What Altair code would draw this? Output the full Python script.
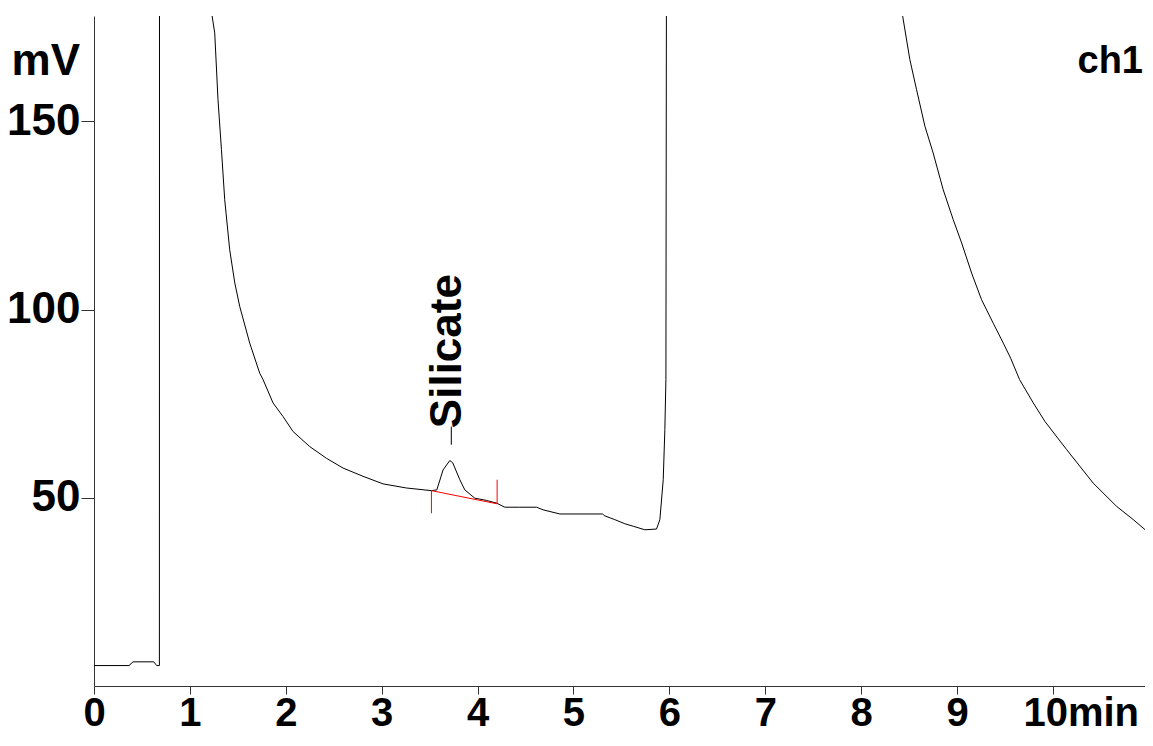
import altair as alt
import pandas as pd

# ---- data ----
trace_time = [0.0, 0.365, 0.407, 0.623, 0.654, 0.682, 0.683,
              1.217, 1.231, 1.259, 1.293, 1.329, 1.363, 1.415, 1.468, 1.520, 1.624, 1.728,
              1.763, 1.867, 1.971, 2.076, 2.250, 2.424, 2.597, 2.806, 3.014, 3.259, 3.519,
              3.575, 3.640, 3.710, 3.741, 3.815, 3.867, 3.971, 4.093, 4.197, 4.284, 4.440, 4.615, 4.683, 4.858,
              5.303, 5.327, 5.431, 5.536, 5.629, 5.744, 5.866, 5.901, 5.936, 5.953, 5.964, 5.969, 5.970,
              8.420, 8.432, 8.508, 8.578, 8.665, 8.751, 8.856, 8.960, 9.048, 9.152, 9.256, 9.377, 9.482, 9.559,
              9.652, 9.795, 9.916, 10.143, 10.420, 10.665, 10.838, 10.994]
trace_mv = [5.43, 5.43, 6.42, 6.42, 5.43, 5.43, 200,
            200, 178.1, 173.5, 155.8, 142.5, 129.2, 115.9, 107.1, 100.8, 91.1, 83.1,
            81.4, 75.2, 71.6, 67.6, 63.6, 60.5, 57.9, 55.7, 53.7, 52.6, 51.9,
            52.1, 57.4, 59.9, 59.3, 54.8, 52.1, 49.9, 49.3, 48.6, 47.5, 47.5, 47.5, 46.8, 45.7,
            45.7, 45.2, 44.2, 43.1, 42.4, 41.5, 41.7, 44.2, 54.8, 68.1, 81.4, 178.1, 200,
            200, 178.1, 166.4, 158.4, 148.7, 141.6, 131.8, 123.9, 117.7, 109.7, 102.6, 96.4, 91.1, 87.1,
            81.4, 75.2, 70.3, 62.8, 53.9, 47.7, 44.2, 40.8]

baseline_time = [3.519, 4.204]
baseline_mv = [51.9, 48.4]

marker_time = [3.519, 4.204]
marker_lo = [45.9, 48.4]
marker_hi = [51.9, 54.8]

peak_names = ["Silicate"]
peak_label_time = [3.695]
peak_label_mv = [68.5]
peak_tick_time = [3.726]
peak_tick_lo = [64.1]
peak_tick_hi = [68.9]

unit_text = ["mV"]
unit_time = [0.0]
unit_mv = [165.7]

channel_text = ["ch1"]
channel_time = [10.96]
channel_mv = [165.7]

x_ticks = list(range(0, 11))
y_ticks = [50, 100, 150]

FONT = "Liberation Sans"
AX = "#333333"

# ---- tables ----
trace = pd.DataFrame({"t": trace_time, "mv": trace_mv})
base = pd.DataFrame({"t": baseline_time, "mv": baseline_mv})
markers = pd.DataFrame({"t": marker_time, "mv": marker_lo, "mv2": marker_hi})
ptick = pd.DataFrame({"t": peak_tick_time, "mv": peak_tick_lo, "mv2": peak_tick_hi})
plabel = pd.DataFrame({"t": peak_label_time, "mv": peak_label_mv, "txt": peak_names})
unit = pd.DataFrame({"t": unit_time, "mv": unit_mv, "txt": unit_text})
chan = pd.DataFrame({"t": channel_time, "mv": channel_mv, "txt": channel_text})

xscale = alt.Scale(domain=[0, 10.96], nice=False, zero=False)
yscale = alt.Scale(domain=[0, 178], nice=False, zero=False)

xaxis = alt.Axis(
    values=x_ticks, title=None, grid=False,
    tickSize=8, tickColor=AX, tickWidth=1, domainColor=AX, domainWidth=1,
    labelFont=FONT, labelFontSize=40, labelFontWeight="bold", labelColor="black",
    labelPadding=-1, labelBaseline="top", labelFlush=False, labelOverlap=False,
    labelBound=False,
    labelExpr="datum.value == 10 ? '10min' : datum.label",
    labelAlign={"condition": {"test": "datum.value == 10", "value": "left"}, "value": "center"},
    labelOffset={"condition": {"test": "datum.value == 10", "value": -30}, "value": 0},
)
yaxis = alt.Axis(
    values=y_ticks, title=None, grid=False,
    tickSize=13, tickColor=AX, tickWidth=1, domainColor=AX, domainWidth=1,
    labelFont=FONT, labelFontSize=44, labelFontWeight="bold", labelColor="black",
    labelPadding=1, labelFlush=False, labelOverlap=False, labelBound=False,
)

X = alt.X("t:Q", scale=xscale, axis=xaxis)
Y = alt.Y("mv:Q", scale=yscale, axis=yaxis)

line = alt.Chart(trace).mark_line(color="black", strokeWidth=1, clip=True).encode(x=X, y=Y)
bl = alt.Chart(base).mark_line(color="red", strokeWidth=1, clip=True).encode(x=X, y=Y)
mk = alt.Chart(markers).mark_rule(color="red", strokeWidth=1).encode(x=X, y=Y, y2=alt.Y2("mv2:Q"))
pt = alt.Chart(ptick).mark_rule(color="black", strokeWidth=1).encode(x=X, y=Y, y2=alt.Y2("mv2:Q"))
pl = alt.Chart(plabel).mark_text(
    font=FONT, fontSize=44, fontWeight="bold", color="black",
    angle=270, align="left", baseline="middle"
).encode(x=X, y=Y, text="txt:N")
ut = alt.Chart(unit).mark_text(
    font=FONT, fontSize=44, fontWeight="bold", color="black",
    align="right", baseline="middle", dx=-14
).encode(x=X, y=Y, text="txt:N")
ct = alt.Chart(chan).mark_text(
    font=FONT, fontSize=38, fontWeight="bold", color="black",
    align="right", baseline="middle", dx=-2
).encode(x=X, y=Y, text="txt:N")

chart = alt.layer(line, bl, mk, pt, pl, ut, ct).properties(
    width=1051, height=670,
    autosize=alt.AutoSizeParams(type="none"),
    padding={"left": 86, "top": 8, "right": 0, "bottom": 48},
    background="white",
).configure_view(stroke=None)

chart.save("out.html", embed_options={"renderer": "svg", "actions": False})
